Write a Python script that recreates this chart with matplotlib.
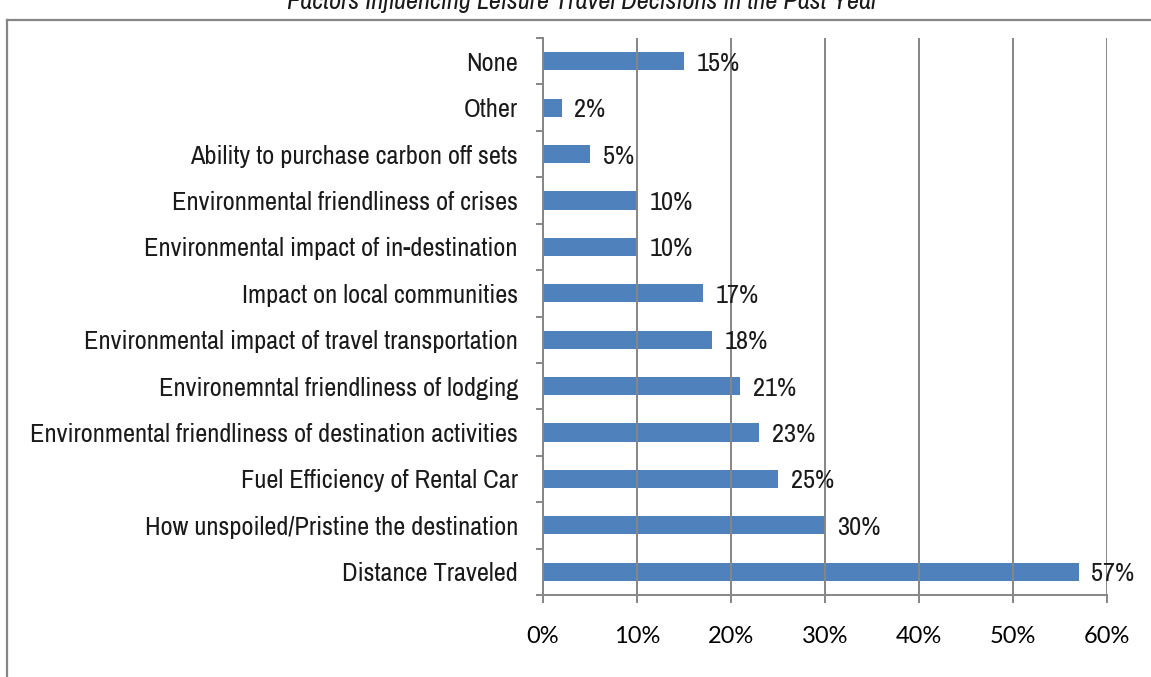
import matplotlib
matplotlib.use("agg")
import matplotlib.pyplot as plt
from matplotlib.lines import Line2D
from matplotlib.ticker import FixedLocator, PercentFormatter

categories = [
    "Distance Traveled",
    "How unspoiled/Pristine the destination",
    "Fuel Efficiency of Rental Car",
    "Environmental friendliness of destination activities",
    "Environemntal friendliness of lodging",
    "Environmental impact of travel transportation",
    "Impact on local communities",
    "Environmental impact of in-destination",
    "Environmental friendliness of crises",
    "Ability to purchase carbon off sets",
    "Other",
    "None",
]
values = [57, 30, 25, 23, 21, 18, 17, 10, 10, 5, 2, 15]
xticks = [0, 10, 20, 30, 40, 50, 60]

title = "Factors Influencing Leisure Travel Decisions in the Past Year"

# Arial Narrow look-alike
narrow = ["Archivo Narrow", "DejaVu Sans"]
grey = "#868686"
blue = "#4F81BD"
ink = "#1a1a1a"

fig = plt.figure(figsize=(11.51, 6.77), dpi=100)
ax = fig.add_axes([543 / 1151, 1 - 595 / 677, 564 / 1151, 557 / 677])

pos = list(range(len(categories)))
ax.barh(pos, values, height=0.39, color=blue)
for p, v in zip(pos, values):
    ax.annotate("%d%%" % v, (v, p), xytext=(9, 0), textcoords="offset points",
                va="center_baseline", ha="left", fontsize=19, family=narrow,
                stretch="condensed", color=ink)

ax.set_xlim(0, 60)
ax.set_ylim(-0.5, len(categories) - 0.5)
ax.set_xticks(xticks)
ax.xaxis.set_major_formatter(PercentFormatter(decimals=0))
ax.set_yticks(pos)
ax.set_yticklabels(categories, family=narrow, fontsize=19, stretch="condensed", color=ink)
ax.yaxis.set_minor_locator(FixedLocator([i - 0.5 for i in range(len(categories) + 1)]))

for lbl in ax.get_xticklabels():
    lbl.set_family(["Lato", "DejaVu Sans"])
    lbl.set_fontsize(17)
ax.tick_params(axis="x", length=6, width=1.4, color=grey, pad=16)
ax.tick_params(axis="y", which="major", length=0, pad=18)
ax.tick_params(axis="y", which="minor", length=5, width=1.4, color=grey)

ax.grid(axis="x", color=grey, linewidth=1.4)
for g in ax.get_xgridlines():
    g.set_zorder(3)
ax.spines["top"].set_visible(False)
ax.spines["right"].set_visible(False)
for s in ("left", "bottom"):
    ax.spines[s].set_color(grey)
    ax.spines[s].set_linewidth(1.4)

# outer chart frame, cropped at right and bottom
fx = 7 / 1151
fy = 1 - 20 / 677
fig.add_artist(Line2D([fx, fx], [-0.05, fy], transform=fig.transFigure, color=grey, lw=1.6))
fig.add_artist(Line2D([fx, 1.05], [fy, fy], transform=fig.transFigure, color=grey, lw=1.6))

fig.text(583 / 1151, 1 - 9 / 677, title, ha="center", va="baseline",
         fontsize=19, family=narrow, stretch="condensed", style="italic", color=ink)

fig.savefig("out.png", dpi=100)
